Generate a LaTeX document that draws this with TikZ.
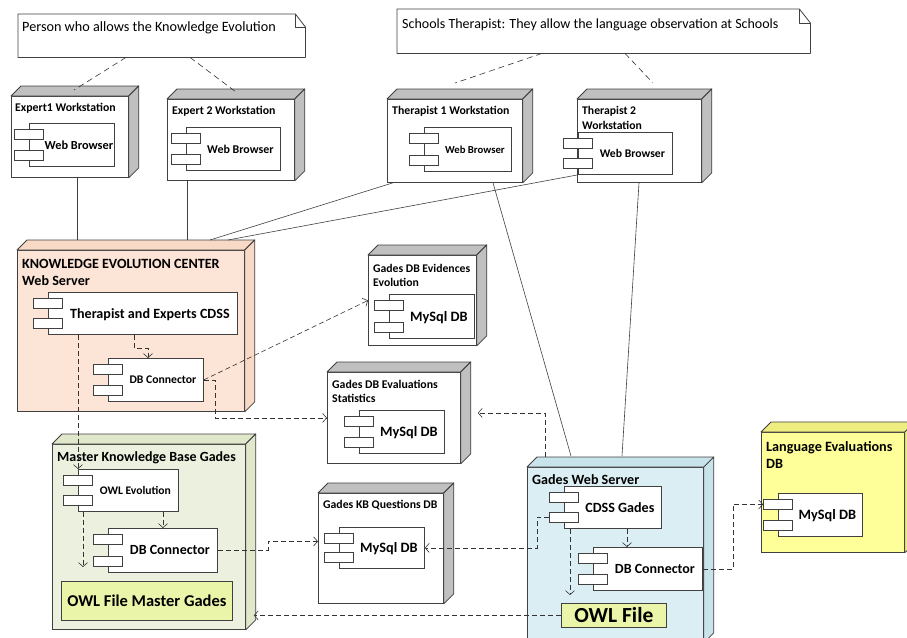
\documentclass[tikz,border=0pt]{standalone}
\usepackage{fontspec}
\setmainfont{Carlito}
\usetikzlibrary{arrows.meta}
\definecolor{boxline}{HTML}{404040}
\definecolor{greyside}{HTML}{C0C0C0}
\definecolor{keFront}{HTML}{FCE4D6}
\definecolor{keSide}{HTML}{F7D9C6}
\definecolor{mkFront}{HTML}{EBF1DE}
\definecolor{mkSide}{HTML}{DFE8CB}
\definecolor{gwFront}{HTML}{DAEEF3}
\definecolor{gwSide}{HTML}{C9E3EB}
\definecolor{leFront}{HTML}{FFFF99}
\definecolor{leSide}{HTML}{EEEE80}
\definecolor{owlFill}{HTML}{EBF5AA}
\newcommand\fsz[2]{\fontsize{#1pt}{#2pt}\selectfont}
\tikzset{
  face/.style={draw=boxline, line width=0.8pt, inner sep=0pt, anchor=north west},
  sideface/.style={draw=boxline, line width=0.8pt, line join=round},
  devtitle/.style={inner sep=0pt, anchor=base west, align=left},
  comp/.style={draw=boxline, fill=white, line width=0.8pt, inner sep=0pt, anchor=north west, text depth=0pt},
  port/.style={draw=boxline, fill=white, line width=0.8pt, inner sep=0pt, minimum width=29pt, minimum height=10pt},
  owlbox/.style={draw=boxline, fill=owlFill, line width=0.8pt, inner sep=0pt, anchor=north west, text depth=0pt, font=\bfseries},
  notebox/.style={inner sep=0pt, minimum width=#1, anchor=north west},
  noteline/.style={draw=boxline, fill=white, line width=0.8pt, line join=round},
  link/.style={draw=black!75, line width=0.6pt},
  dep/.style={draw=black!80, line width=0.6pt, dash pattern=on 5pt off 3pt, -{Straight Barb[length=4pt,width=9pt]}},
  notelink/.style={draw=black!80, line width=0.6pt, dash pattern=on 6pt off 4pt},
}
% #1 name, #2 x, #3 y, #4 w, #5 h, #6 front, #7 side
\newcommand\device[7]{%
  \node[face, fill=#6, minimum width=#4pt, minimum height=#5pt] (#1) at (#2,#3) {};
  \filldraw[sideface, fill=#7] (#1.north west) -- ++(10,-10) -- ([xshift=10pt,yshift=10pt]#1.north east) -- (#1.north east) -- cycle;
  \filldraw[sideface, fill=#7] (#1.north east) -- ([xshift=10pt,yshift=10pt]#1.north east) -- ([xshift=10pt,yshift=10pt]#1.south east) -- (#1.south east) -- cycle;
}
% #1 name, #2 x, #3 y, #4 w, #5 h, #6 font, #7 text
\newcommand\comp[7]{%
  \node[comp, minimum width=#4pt, minimum height=#5pt, font=\bfseries#6] (#1) at (#2,#3) {\hspace*{14pt}#7};
  \node[port, anchor=north] (#1-p1) at ([yshift=-6pt]#1.north west) {};
  \node[port, anchor=south] (#1-p2) at ([yshift=6pt]#1.south west) {};
}
\begin{document}
\begin{tikzpicture}[x=1pt,y=-1pt]
\useasboundingbox (0,0) rectangle (907,637);
% ---------- notes
\node[notebox=287pt, minimum height=43pt] (n1) at (18,14) {};
\filldraw[noteline] (n1.south west) -- (n1.north west) -- ([xshift=-10pt]n1.north east) -- ([yshift=-13pt]n1.north east) -- (n1.south east) -- cycle;
\draw[noteline, fill=none] ([xshift=-10pt]n1.north east) -- ([xshift=-10pt,yshift=-13pt]n1.north east) -- ([yshift=-13pt]n1.north east);
\node[anchor=base west, inner sep=0pt, font=\fsz{14.2}{17}] (n1-t) at (22,31.5) {Person who allows the Knowledge Evolution};
\node[notebox=413pt, minimum height=44pt] (n2) at (397,9) {};
\filldraw[noteline] (n2.south west) -- (n2.north west) -- ([xshift=-11pt]n2.north east) -- ([yshift=-14pt]n2.north east) -- (n2.south east) -- cycle;
\draw[noteline, fill=none] ([xshift=-11pt]n2.north east) -- ([xshift=-11pt,yshift=-14pt]n2.north east) -- ([yshift=-14pt]n2.north east);
\node[anchor=base west, inner sep=0pt, font=\fsz{14}{17}] (n2-t) at (402,28.5) {Schools Therapist: They allow the language observation at Schools};
% ---------- devices
\device{e1}{11}{96}{117}{81}{white}{greyside}
\device{e2}{167}{99}{127}{81}{white}{greyside}
\device{t1}{387}{99}{135}{83}{white}{greyside}
\device{t2}{577}{99}{124}{83}{white}{greyside}
\device{kec}{17}{250}{227}{161}{keFront}{keSide}
\device{ev}{368}{255}{108}{90}{white}{greyside}
\device{st}{327}{372}{133}{91}{white}{greyside}
\device{kbq}{318}{493}{125}{110}{white}{greyside}
\device{mkb}{52}{444}{193}{185}{mkFront}{mkSide}
\device{gws}{527}{467}{176}{175}{gwFront}{gwSide}
\device{le}{761}{432}{143}{120}{leFront}{leSide}
% ---------- device titles (base = baseline of last line)
\node[devtitle, font=\bfseries\fsz{11.8}{15}] (e1-t) at (15,111) {Expert1 Workstation};
\node[devtitle, font=\bfseries\fsz{11.8}{15}] (e2-t) at (172,114.5) {Expert 2 Workstation};
\node[devtitle, font=\bfseries\fsz{11.8}{15}] (t1-t) at (392,114) {Therapist 1 Workstation};
\node[devtitle, font=\bfseries\fsz{11.7}{15}] (t2-t) at (582,129) {Therapist 2\\Workstation};
\node[devtitle, font=\bfseries\fsz{14.1}{17}] (kec-t) at (22,285) {KNOWLEDGE EVOLUTION CENTER\\Web Server};
\node[devtitle, font=\bfseries\fsz{11.7}{14}] (ev-t) at (373,286) {Gades DB Evidences\\Evolution};
\node[devtitle, font=\bfseries\fsz{11.8}{14}] (st-t) at (332,402) {Gades DB Evaluations\\Statistics};
\node[devtitle, font=\bfseries\fsz{11.75}{14}] (kbq-t) at (323,508) {Gades KB Questions DB};
\node[devtitle, font=\bfseries\fsz{14}{17}] (mkb-t) at (57,461.5) {Master Knowledge Base Gades};
\node[devtitle, font=\bfseries\fsz{14.1}{17}] (gws-t) at (532,484.5) {Gades Web Server};
\node[devtitle, font=\bfseries\fsz{14.2}{17}] (le-t) at (766,468) {Language Evaluations\\DB};
% ---------- components
\comp{e1c}{29}{123}{85}{43}{\fsz{12.3}{14}}{Web Browser}
\comp{e2c}{186}{127}{94}{43}{\fsz{11.9}{14}}{Web Browser}
\comp{t1c}{424}{127}{87}{44}{\fsz{10.7}{13}}{Web Browser}
\comp{t2c}{578}{132}{94}{42}{\fsz{11.7}{14}}{Web Browser}
\comp{kcd}{48}{292}{189}{42}{\fsz{14.1}{17}}{Therapist and Experts CDSS}
\comp{kdbc}{108}{358}{95}{43}{\fsz{11.7}{14}}{DB Connector}
\comp{evc}{389}{294}{85}{44}{\fsz{14.3}{17}}{MySql DB}
\comp{stc}{359}{410}{85}{43}{\fsz{14.3}{17}}{MySql DB}
\comp{kbqc}{339}{527}{85}{41}{\fsz{14.3}{17}}{MySql DB}
\comp{owl}{78}{469}{100}{42}{\fsz{11.6}{14}}{OWL Evolution}
\comp{mdbc}{108}{528}{109}{44}{\fsz{14}{17}}{DB Connector}
\comp{gcd}{564}{486}{97}{42}{\fsz{14.1}{17}}{CDSS Gades}
\comp{gdbc}{593}{547}{109}{43}{\fsz{14}{17}}{DB Connector}
\comp{lec}{778}{493}{84}{43}{\fsz{14.3}{17}}{MySql DB}
\node[owlbox, minimum width=171pt, minimum height=39pt, font=\bfseries\fsz{16.5}{20}] (mof) at (61,581) {OWL File Master Gades};
\node[owlbox, minimum width=105pt, minimum height=24pt, font=\bfseries\fsz{21.5}{25}] (gof) at (561,603) {OWL File};
% ---------- solid links
\draw[link] ([xshift=66pt]e1.south west) -- ([xshift=60pt,yshift=10pt]kec.north west);
\draw[link] ([xshift=20pt]e2.south west) -- ([xshift=170pt,yshift=10pt]kec.north west);
\draw[link] ([xshift=6pt]t1.south west) -- ([xshift=193pt,yshift=10pt]kec.north west);
\draw[link] (t2c.south west) -- ([xshift=211pt,yshift=10pt]kec.north west);
\draw[link] ([xshift=106pt]t1.south west) -- ([xshift=44pt,yshift=11pt]gws.north west);
\draw[link] ([xshift=62pt]t2.south west) -- ([xshift=95pt,yshift=11pt]gws.north west);
% ---------- note links
\draw[notelink] ([xshift=108pt]n1.south west) -- ([xshift=63pt,yshift=6pt]e1.north west);
\draw[notelink] ([xshift=172pt]n1.south west) -- ([xshift=69pt,yshift=7pt]e2.north west);
\draw[notelink] ([xshift=145pt]n2.south west) -- ([xshift=68pt,yshift=16pt]t1.north west);
\draw[notelink] ([xshift=228pt]n2.south west) -- ([xshift=76pt,yshift=16pt]t2.north west);
% ---------- dependencies
\draw[dep] ([xshift=86pt]kcd.south west) -- ++(0,13) -| ([xshift=40pt]kdbc.north west);
\draw[dep] (owl.north west |- kcd.south) -- (owl.north west);
\draw[dep] (kdbc.east) -- (ev.west);
\draw[dep] (kdbc.east) -- ++(11,0) |- (st.west);
\draw[dep] ([xshift=85pt]owl.south west) -- ([xshift=55pt]mdbc.north west);
\coordinate (owlend) at (83,567);
\draw[dep] (owlend |- owl.south) -- (owlend);
\draw[dep] (mdbc.east) -- ++(50,0) |- ([yshift=7pt]kbq.west);
\draw[dep] (gcd-p2.west) -- ++(-12,0) |- (kbqc.east);
\draw[dep] ([xshift=63pt]gcd.south west) -- ([xshift=34pt]gdbc.north west);
\coordinate (gcdend) at (570,595);
\draw[dep] (gcdend |- gcd.south) -- (gcdend);
\draw[dep] (gdbc.east) -- ++(30,0) |- (lec-p1.west);
\draw[dep] ([xshift=18pt,yshift=10pt]gws.north west) |- ([xshift=17pt,yshift=5pt]st.east);
\coordinate (mkbside) at ([xshift=8pt]mkb.east);
\draw[dep] (gof.west) -- (gof.west -| mkbside);
\end{tikzpicture}
\end{document}
